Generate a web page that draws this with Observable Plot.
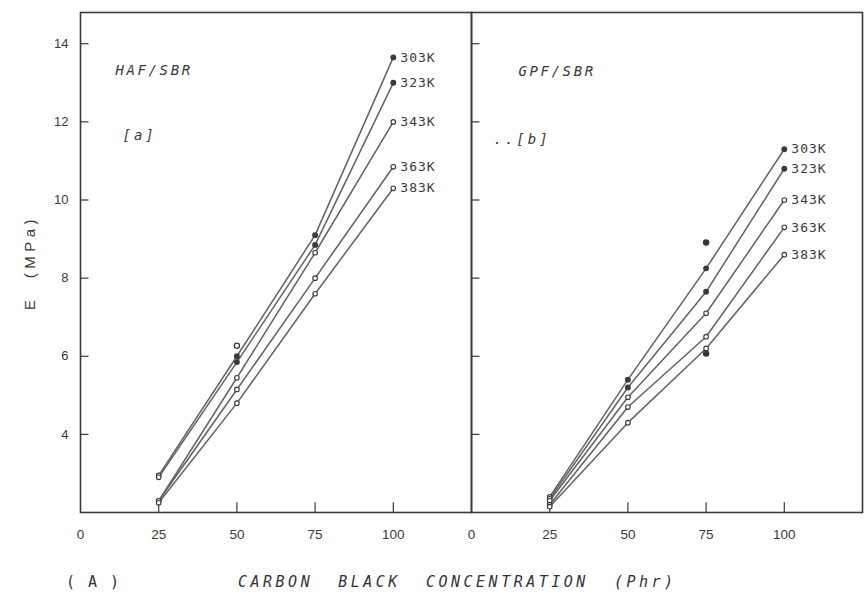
<!DOCTYPE html>
<html>
<head>
<meta charset="utf-8">
<script src="https://cdn.jsdelivr.net/npm/d3@7"></script>
<script src="https://cdn.jsdelivr.net/npm/@observablehq/plot@0.6"></script>
<style>
  body { margin: 0; background: #fff; }
  #chart { width: 866px; }
  .caption { position: relative; width: 866px; height: 43px; color: #333;
    font-family: "DejaVu Sans Mono", monospace; font-style: italic; font-size: 15px; white-space: pre; }
  .caption span { position: absolute; top: 13px; }
</style>
</head>
<body>
<div id="chart"></div>
<div class="caption">
  <span style="left:66px;letter-spacing:2px;font-style:normal">( A )</span>
  <span style="left:238px;letter-spacing:3.5px">CARBON  BLACK  CONCENTRATION  (Phr)</span>
</div>
<script>
// Young's modulus E (MPa) of carbon-black filled SBR vs. filler loading (phr)
const panels = ["HAF/SBR", "GPF/SBR"];
const panelTags = ["[a]", "..[b]"];
const concentration = [25, 50, 75, 100];
const temperatures = ["303K", "323K", "343K", "363K", "383K"];

// one row per temperature, one value per concentration
const hafModulus = [
  [2.95, 6.0, 9.1, 13.65],
  [2.9, 5.85, 8.85, 13.0],
  [2.3, 5.45, 8.65, 12.0],
  [2.3, 5.15, 8.0, 10.85],
  [2.25, 4.8, 7.6, 10.3]
];
const gpfModulus = [
  [2.4, 5.4, 8.25, 11.3],
  [2.35, 5.2, 7.65, 10.8],
  [2.3, 4.95, 7.1, 10.0],
  [2.2, 4.7, 6.5, 9.3],
  [2.15, 4.3, 6.2, 8.6]
];

// stray measurements plotted without a connecting line
const hafStray = [[50, 6.27]];
const gpfStray = [[75, 8.91], [75, 6.07]];

const xTicks = [0, 25, 50, 75, 100];
const yTicks = [4, 6, 8, 10, 12, 14];
const yLabel = "E  (MPa)";

const rows = [];
panels.forEach((panel, i) => {
  const E = i === 0 ? hafModulus : gpfModulus;
  temperatures.forEach((temp, j) => {
    concentration.forEach((c, k) => rows.push({panel, temp, c, E: E[j][k]}));
  });
});
const ends = rows.filter(d => d.c === concentration[concentration.length - 1]);
const filledTemps = new Set(["303K", "323K"]);
const isFilled = d => filledTemps.has(d.temp) && d.c > concentration[0];
const stray = [
  ...hafStray.map(([c, E]) => ({panel: panels[0], c, E, open: true})),
  ...gpfStray.map(([c, E]) => ({panel: panels[1], c, E, open: false}))
];
const xTickRows = panels.flatMap(panel => xTicks.slice(1).map(v => ({panel, v})));
const yTickRows = panels.flatMap(panel => yTicks.map(v => ({panel, v})));
const titles = panels.map((panel, i) => ({panel, tag: panelTags[i]}));

const ink = "#3a3a3a";
const lineInk = "#626262";
const mono = "'DejaVu Sans Mono', monospace";
const panelText = {fx: "panel", frameAnchor: "top-left", textAnchor: "start",
  fontSize: 14, fontStyle: "italic", fill: ink, fontFamily: mono};

const chart = Plot.plot({
  width: 866,
  height: 560,
  marginLeft: 80,
  marginRight: 4,
  marginTop: 12,
  marginBottom: 48,
  fx: {domain: panels, padding: 0, axis: null},
  x: {domain: [0, 125]},
  y: {domain: [2, 14.8]},
  style: {fontFamily: "'Liberation Sans', Arial, sans-serif", color: ink, background: "#fff"},
  marks: [
    Plot.frame({stroke: ink, strokeWidth: 1.6}),
    // inward tick marks on both panels
    Plot.ruleY(yTickRows, {fx: "panel", y: "v", x1: 0, x2: 2.7, stroke: ink, strokeWidth: 1.2}),
    Plot.ruleX(xTickRows, {fx: "panel", x: "v", y1: 2, y2: 2.25, stroke: ink, strokeWidth: 1.2}),
    Plot.axisY({ticks: yTicks, tickSize: 0, tickPadding: 12, fontSize: 13, label: null}),
    Plot.axisX({ticks: xTicks, tickSize: 0, tickPadding: 17, fontSize: 13.5, label: null}),
    // rotated y-axis title, left panel only
    Plot.text([{panel: panels[0]}], {fx: "panel", frameAnchor: "left", text: () => yLabel,
      textAnchor: "middle", rotate: -90, dx: -50, fontSize: 15, fill: ink}),
    Plot.line(rows, {fx: "panel", x: "c", y: "E", z: d => d.panel + d.temp,
      stroke: lineInk, strokeWidth: 1.5}),
    Plot.dot(rows.filter(isFilled), {fx: "panel", x: "c", y: "E",
      r: 2.2, fill: ink, stroke: ink}),
    Plot.dot(rows.filter(d => !isFilled(d)), {fx: "panel", x: "c", y: "E",
      r: 2.3, fill: "#fff", stroke: ink, strokeWidth: 1.1}),
    Plot.dot(stray, {fx: "panel", x: "c", y: "E", r: 2.6,
      fill: d => d.open ? "white" : "#333", stroke: ink, strokeWidth: 1.3}),
    Plot.text(ends, {fx: "panel", x: "c", y: "E", text: "temp", textAnchor: "start",
      dx: 7, fontSize: 13, fill: ink, fontFamily: mono}),
    // panel titles and tags
    Plot.text(titles.slice(0, 1), {...panelText, text: "panel", dx: 35, dy: 53}),
    Plot.text(titles.slice(1), {...panelText, text: "panel", dx: 47, dy: 54}),
    Plot.text(titles.slice(0, 1), {...panelText, text: "tag", dx: 42, dy: 118}),
    Plot.text(titles.slice(1), {...panelText, text: "tag", dx: 22, dy: 122})
  ]
});

// letter spacing for the typed labels
const spacing = new Map([
  [yLabel, "4.5px"],
  ...temperatures.map(t => [t, "1px"]),
  ...panels.map(p => [p, "2.6px"]),
  ...panelTags.map(t => [t, "3px"])
]);
d3.select(chart).selectAll("text").each(function () {
  const s = spacing.get(this.textContent);
  if (s) this.style.letterSpacing = s;
});
document.getElementById("chart").append(chart);
</script>
</body>
</html>
